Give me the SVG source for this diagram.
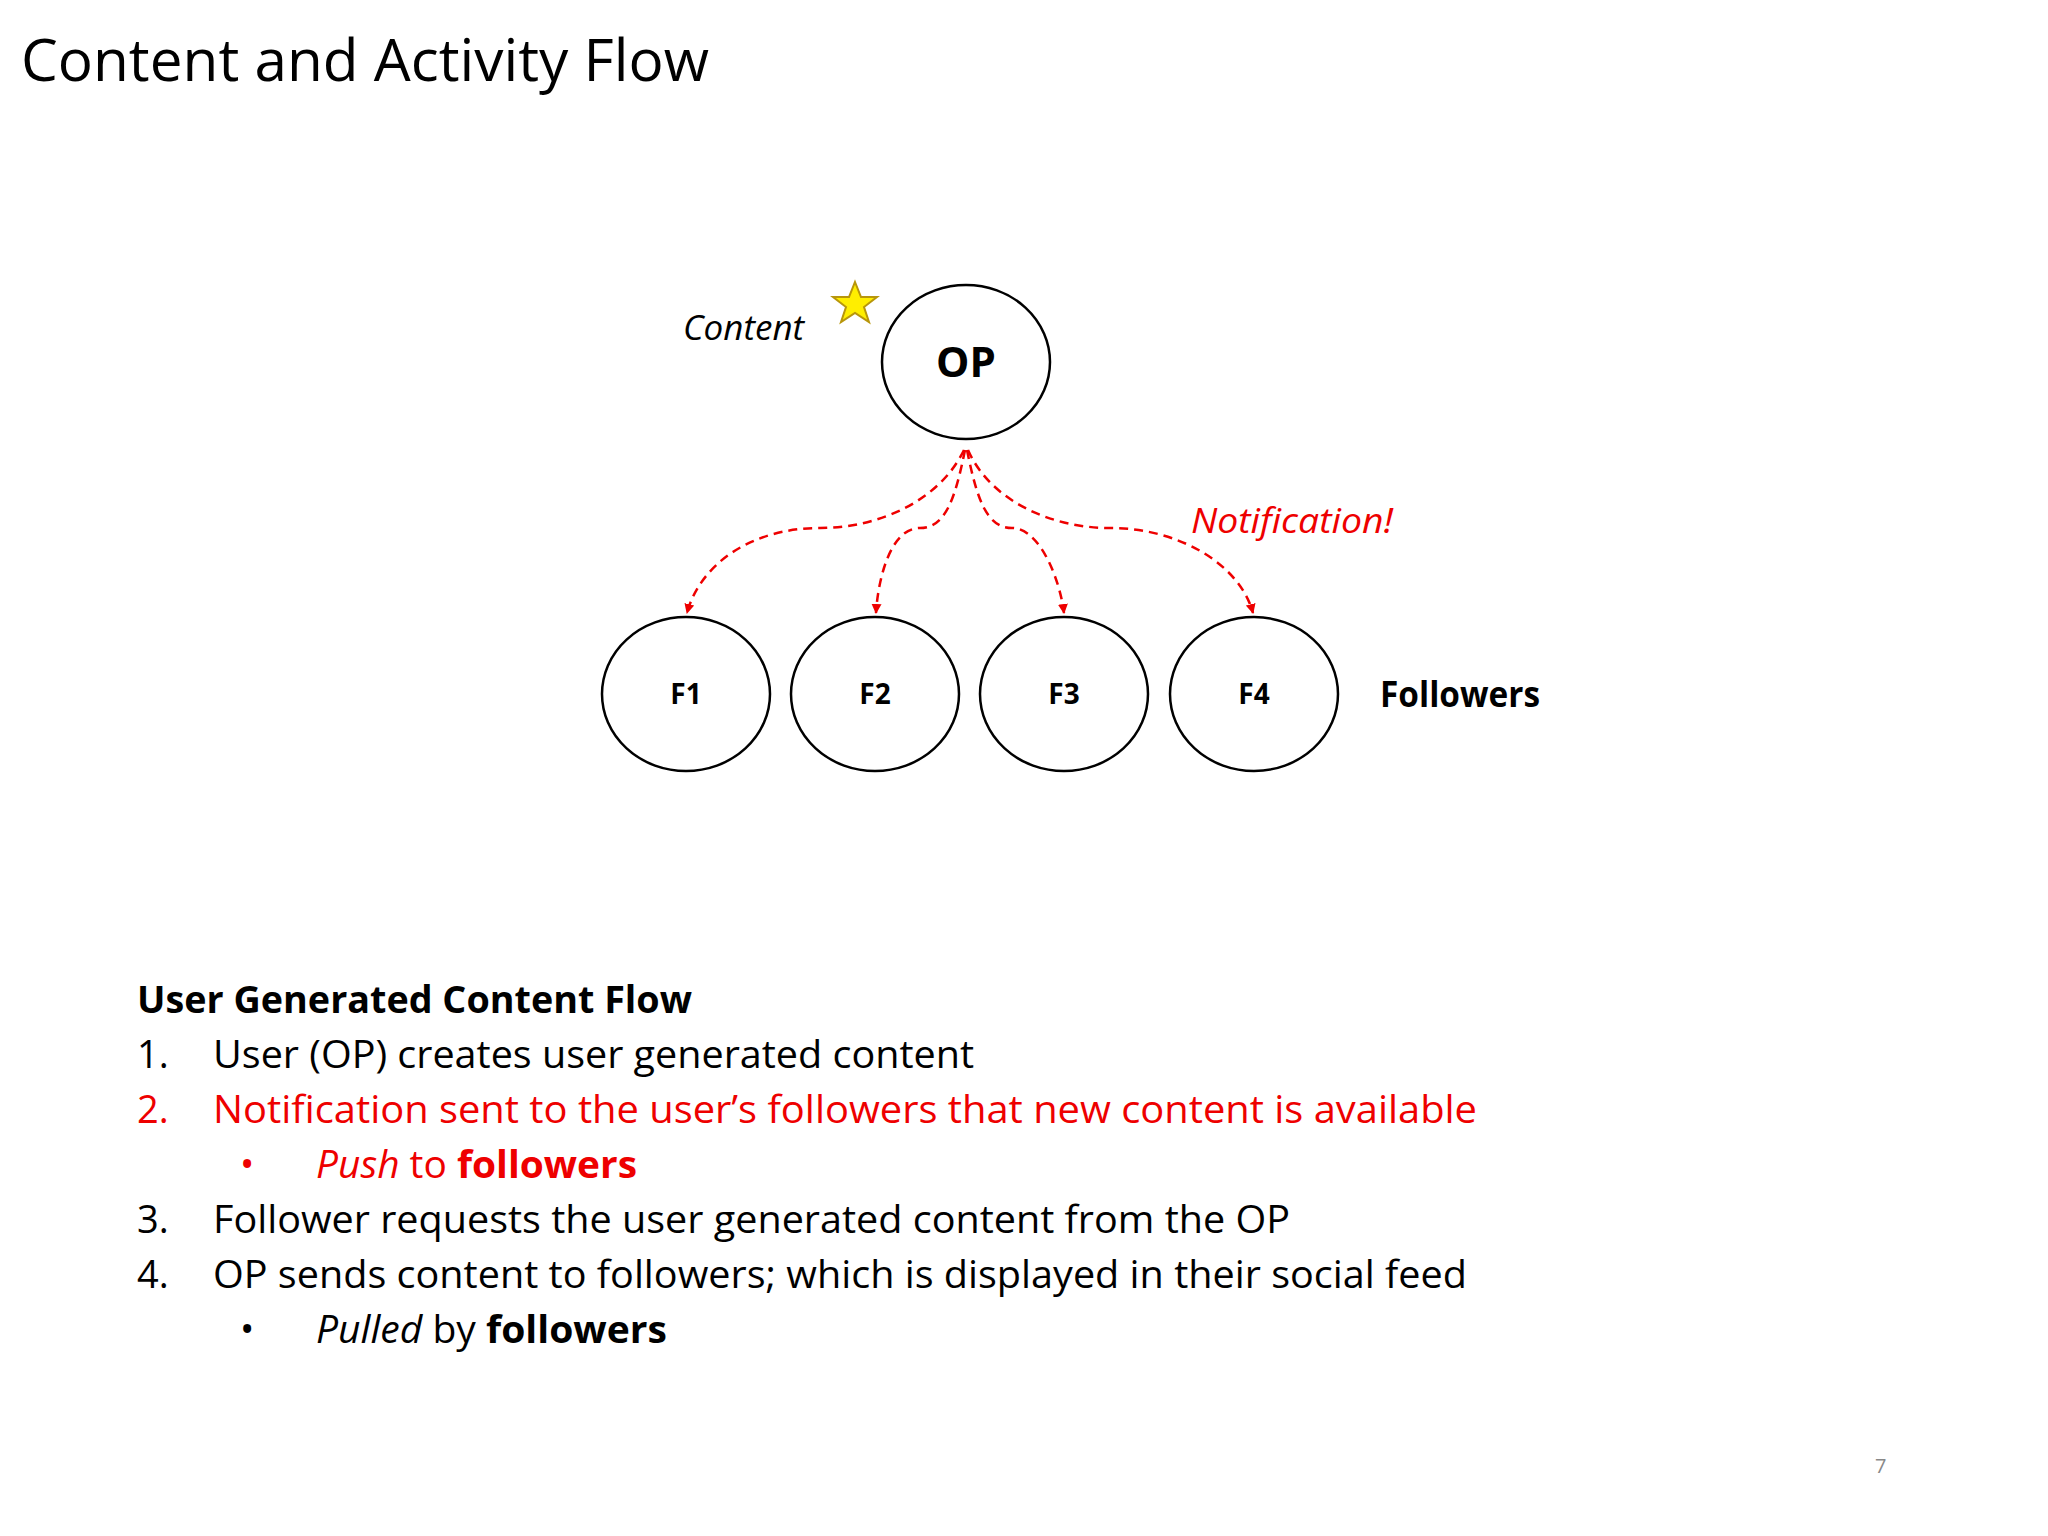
<svg xmlns="http://www.w3.org/2000/svg" width="2048" height="1536" viewBox="0 0 2048 1536">
<style>
text{font-family:"Open Sans","Liberation Sans",sans-serif;fill:#000}
.node{fill:#fff;stroke:#000;stroke-width:2.5}
.lbl{font-weight:bold;text-anchor:middle}
.red{fill:#ee0000}
.conn{fill:none;stroke:#ee0000;stroke-width:2.5;stroke-dasharray:9 6;marker-end:url(#ah)}
.body{font-size:38px}
</style>
<defs>
<marker id="ah" markerWidth="10" markerHeight="10" refX="9" refY="5" orient="auto" markerUnits="userSpaceOnUse" viewBox="0 0 10 10">
<path d="M0,0 L10,5 L0,10 Z" fill="#ee0000"/>
</marker>
</defs>
<rect width="2048" height="1536" fill="#fff"/>
<text x="21" y="81" font-size="58" textLength="688" lengthAdjust="spacingAndGlyphs">Content and Activity Flow</text>

<g id="connectors">
<path class="conn" d="M964,450 C940,500 880,528 820,528 C750,528 700,565 687,613"/>
<path class="conn" d="M965,450 C955,500 945,528 920,528 C890,528 878,580 876,613"/>
<path class="conn" d="M967,450 C977,500 987,528 1012,528 C1040,528 1060,580 1064,613"/>
<path class="conn" d="M968,450 C990,500 1050,528 1110,528 C1180,528 1240,565 1253,613"/>
</g>

<g id="op">
<ellipse class="node" cx="966" cy="362" rx="84" ry="77"/>
<text class="lbl" x="966" y="377" font-size="42">OP</text>
</g>
<g id="star">
<polygon points="855,282 861,297 877,297 864,307 869,322 855,313 841,322 846,307 833,297 849,297" fill="#ffee00" stroke="#b8960b" stroke-width="2"/>
</g>
<text x="683" y="340" font-size="35" font-style="italic">Content</text>

<g id="f1"><ellipse class="node" cx="686" cy="694" rx="84" ry="77"/><text class="lbl" x="686" y="704" font-size="28">F1</text></g>
<g id="f2"><ellipse class="node" cx="875" cy="694" rx="84" ry="77"/><text class="lbl" x="875" y="704" font-size="28">F2</text></g>
<g id="f3"><ellipse class="node" cx="1064" cy="694" rx="84" ry="77"/><text class="lbl" x="1064" y="704" font-size="28">F3</text></g>
<g id="f4"><ellipse class="node" cx="1254" cy="694" rx="84" ry="77"/><text class="lbl" x="1254" y="704" font-size="28">F4</text></g>
<text x="1380" y="707" font-size="35" font-weight="bold" textLength="160" lengthAdjust="spacingAndGlyphs">Followers</text>
<text class="red" x="1191" y="533" font-size="35" font-style="italic" textLength="202" lengthAdjust="spacingAndGlyphs">Notification!</text>

<text class="body" x="137" y="1013" font-weight="bold" textLength="555" lengthAdjust="spacingAndGlyphs">User Generated Content Flow</text>
<text class="body" x="137" y="1068">1.</text>
<text class="body" x="213" y="1068" textLength="761" lengthAdjust="spacingAndGlyphs">User (OP) creates user generated content</text>
<text class="body red" x="137" y="1123">2.</text>
<text class="body red" x="213" y="1123" textLength="1264" lengthAdjust="spacingAndGlyphs">Notification sent to the user’s followers that new content is available</text>
<text class="body red" x="240" y="1178">•</text>
<text class="body red" x="316" y="1178" textLength="321" lengthAdjust="spacingAndGlyphs"><tspan font-style="italic">Push</tspan> to <tspan font-weight="bold">followers</tspan></text>
<text class="body" x="137" y="1233">3.</text>
<text class="body" x="213" y="1233" textLength="1077" lengthAdjust="spacingAndGlyphs">Follower requests the user generated content from the OP</text>
<text class="body" x="137" y="1288">4.</text>
<text class="body" x="213" y="1288" textLength="1254" lengthAdjust="spacingAndGlyphs">OP sends content to followers; which is displayed in their social feed</text>
<text class="body" x="240" y="1343">•</text>
<text class="body" x="316" y="1343" textLength="351" lengthAdjust="spacingAndGlyphs"><tspan font-style="italic">Pulled</tspan> by <tspan font-weight="bold">followers</tspan></text>
<text x="1875" y="1473" font-size="20" fill="#888" style="fill:#888">7</text>
</svg>
